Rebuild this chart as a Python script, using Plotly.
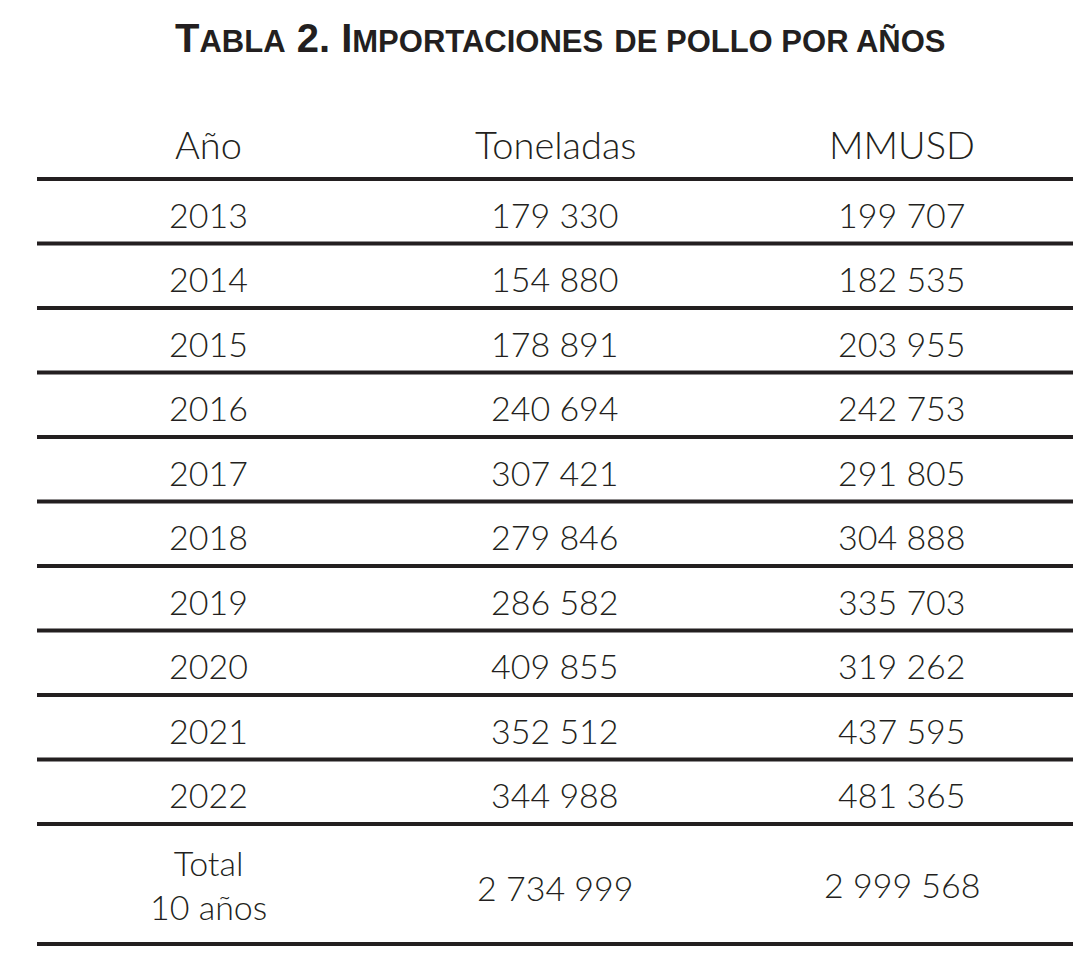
import plotly.graph_objects as go

years = ["2013","2014","2015","2016","2017","2018","2019","2020","2021","2022"]
toneladas = ["179 330","154 880","178 891","240 694","307 421","279 846","286 582","409 855","352 512","344 988"]
mmusd = ["199 707","182 535","203 955","242 753","291 805","304 888","335 703","319 262","437 595","481 365"]
total_label = "Total<br>10 años"
total_ton = "2 734 999"
total_usd = "2 999 568"
headers = ["Año","Toneladas","MMUSD"]

W, H = 1090, 974
off = 8
colx = [208 - off, 555 - off, 902 - off]
top = 178 - 7
step = 64.5
fnt = dict(family="Lato, Open Sans, sans-serif", size=34, color="#231f20", weight=300)
hfnt = dict(family="Lato, Open Sans, sans-serif", size=38, color="#231f20", weight=300)

fig = go.Figure()
ann = []
def t(x, y, s, font=fnt):
    ann.append(dict(x=x, y=y, text=s, showarrow=False, xref="x", yref="y", font=font, align="center"))

big, small = 40, 31
def sc(word):
    return f"<span style='font-size:{big}px'>{word[0]}</span><span style='font-size:{small}px'>{word[1:].upper()}</span>"
title = "<b>" + sc("Tabla") + f"<span style='font-size:{big}px'> 2. </span>" + sc("Importaciones") + " " + \
    f"<span style='font-size:{small}px'>DE POLLO POR AÑOS</span>" + "</b>"
t(560 - off, 30, title, font=dict(family="Liberation Sans, Arial, sans-serif", size=big, color="#231f20"))

for x, h in zip(colx, headers):
    t(x, 136, h, hfnt)

lw = dict(color="#231f20", width=4)
x0, x1 = 37 - off, 1073 - off
shapes = [dict(type="line", x0=x0, x1=x1, y0=top, y1=top, line=lw, xref="x", yref="y")]
for i, (yr, tn, us) in enumerate(zip(years, toneladas, mmusd)):
    yc = top + step * i + 35
    t(colx[0], yc, yr); t(colx[1], yc, tn); t(colx[2], yc, us)
    yl = top + step * (i + 1)
    shapes.append(dict(type="line", x0=x0, x1=x1, y0=yl, y1=yl, line=lw, xref="x", yref="y"))
last = top + step * 10
bottom = 943 - 7
shapes.append(dict(type="line", x0=x0, x1=x1, y0=bottom, y1=bottom, line=lw, xref="x", yref="y"))
t(colx[0], (last + bottom) / 2, total_label)
t(colx[1], (last + bottom) / 2 + 3, total_ton)
t(colx[2], (last + bottom) / 2, total_usd)

fig.update_layout(width=W, height=H, margin=dict(l=0, r=0, t=0, b=0), paper_bgcolor="white", plot_bgcolor="white",
                  xaxis=dict(range=[0, W], visible=False, fixedrange=True),
                  yaxis=dict(range=[H, 0], visible=False, fixedrange=True),
                  annotations=ann, shapes=shapes, showlegend=False)
fig.write_html("out.html")
